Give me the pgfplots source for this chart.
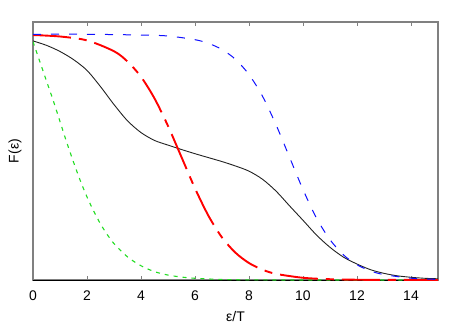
\documentclass[border=0pt]{standalone}
\usepackage{pgfplots}
\pgfplotsset{compat=1.18}
\usepackage{fontspec}
\setmainfont{Liberation Sans}
\definecolor{axgray}{HTML}{808080}
\definecolor{cgreen}{HTML}{22DD22}
\definecolor{cblue}{HTML}{1010FF}
\definecolor{cred}{HTML}{FF0000}
\definecolor{cblack}{HTML}{222222}

% curves
\pgfplotstableread{
x y
0 0.97
0.25 0.89
0.5 0.81
0.75 0.73
1.0 0.645
1.25 0.56
1.5 0.48
1.75 0.405
2.0 0.338
2.25 0.28
2.5 0.228
2.75 0.185
3.0 0.148
3.5 0.094
4.0 0.058
4.5 0.034
5.0 0.02
5.5 0.012
6.0 0.007
7.0 0.002
8.0 0.0005
10.0 0
15.0 0
}\greendata

\pgfplotstableread{
x y
0 0.973
0.5 0.955
1 0.930
1.5 0.897
2 0.853
2.5 0.787
3 0.714
3.5 0.648
4 0.600
4.5 0.568
5 0.549
5.5 0.531
6 0.514
6.5 0.498
7 0.482
7.5 0.464
8 0.443
8.5 0.410
9 0.362
9.5 0.302
10 0.243
10.5 0.183
11 0.133
11.5 0.093
12 0.065
12.5 0.042
13 0.027
13.5 0.017
14 0.011
14.5 0.007
15 0.005
}\blackdata

\pgfplotstableread{
x y
0 0.997
1 0.991
2 0.975
3 0.931
3.5 0.889
4 0.827
4.5 0.739
5 0.627
5.5 0.5
6 0.373
6.5 0.261
7 0.173
7.5 0.111
8 0.069
8.5 0.042
9 0.025
10 0.009
11 0.0032
12 0.0011
13 0.0004
15 0.0001
}\reddata

\pgfplotstableread{
x y
0 1.0
2 1.0
4 0.997
5 0.993
6 0.978
6.5 0.963
7 0.938
7.5 0.898
8 0.836
8.5 0.748
9 0.632
9.5 0.5
10 0.368
10.5 0.252
11 0.164
11.5 0.102
12 0.062
12.5 0.037
13 0.022
14 0.0075
15 0.0025
}\bluedata

\begin{document}
\begin{tikzpicture}
\begin{axis}[
    scale only axis,
    width=405bp, height=258bp,
    xmin=0, xmax=15, ymin=0, ymax=1.05,
    axis line style={axgray, line width=1.3bp},
    xtick={0,2,...,14}, ytick=\empty,
    xtick pos=both, xticklabel pos=lower, tick align=inside,
    major tick length=4bp,
    every tick/.style={axgray, line width=1bp},
    /pgf/number format/assume math mode=true,
    tick label style={font=\fontsize{14}{16}\selectfont},
    xticklabel style={anchor=base, yshift=-20bp},
    xlabel={ε/T}, ylabel={F(ε)},
    every axis x label/.style={at={([yshift=-37bp]axis description cs:0.5,0)}, anchor=center, font=\fontsize{14}{16}\selectfont},
    every axis y label/.style={at={([xshift=-18bp]axis description cs:0,0.5)}, anchor=center, rotate=90, font=\fontsize{14}{16}\selectfont},
]
% zero line along the bottom
\addplot[black, line width=1bp] coordinates {(0,0) (15,0)};
\addplot[cblack, line width=0.9bp, smooth] table {\blackdata};
\addplot[cgreen, line width=1.1bp, smooth, dash pattern=on 4bp off 5bp] table {\greendata};
\addplot[cred, line width=1.9bp, smooth, dash pattern=on 38bp off 8bp on 8bp off 8bp] table {\reddata};
\addplot[cblue, line width=1bp, smooth, dash pattern=on 8bp off 10bp] table {\bluedata};
\end{axis}
\path ([shift={(-33bp,-50bp)}]current axis.south west) rectangle ([shift={(33bp,22bp)}]current axis.north east);
\end{tikzpicture}
\end{document}
